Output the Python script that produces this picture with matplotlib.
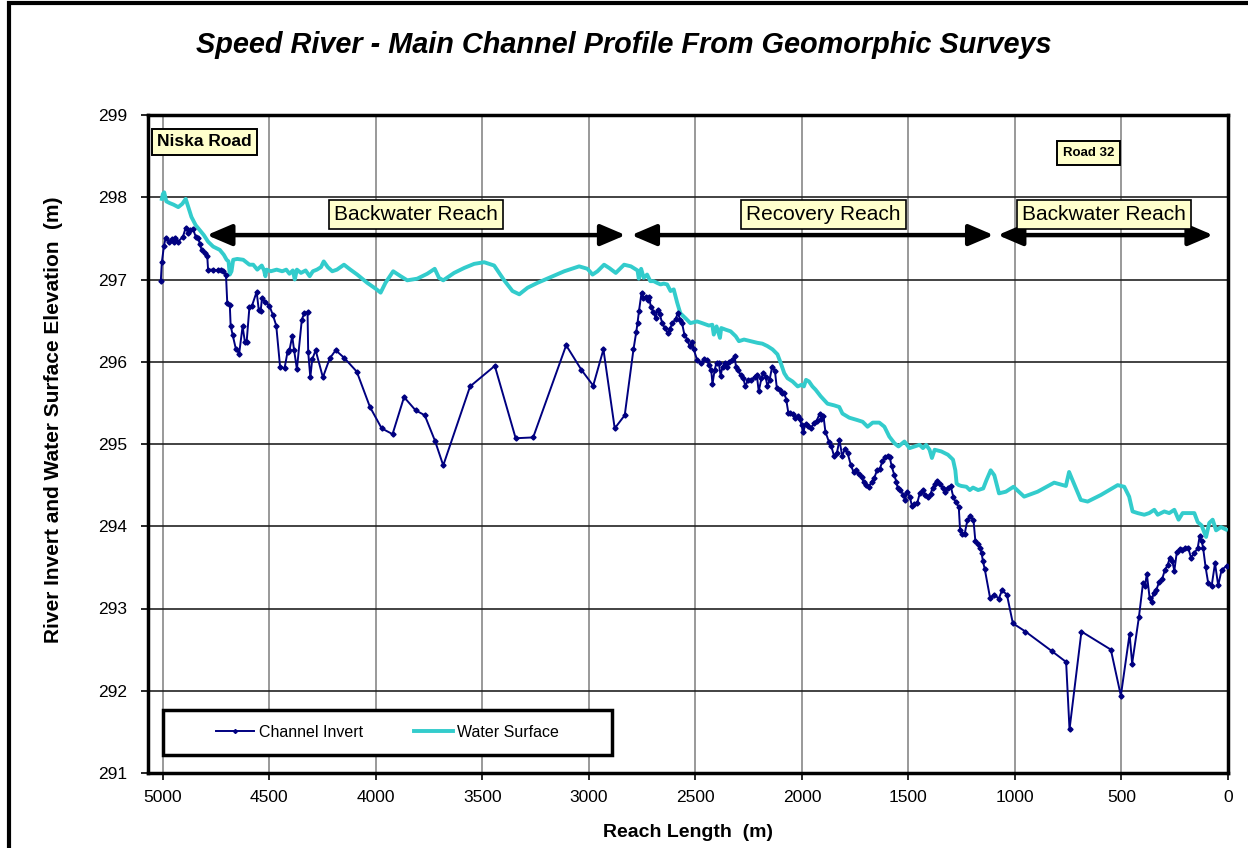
import matplotlib
matplotlib.use("Agg")
import matplotlib.pyplot as plt
from matplotlib.patches import Rectangle

plt.rcParams['font.family'] = ['Liberation Sans', 'DejaVu Sans']

# Channel invert survey points (reach length m, elevation m)
invert_dist = [5010, 5005, 4995, 4987, 4972, 4959, 4950, 4943, 4928, 4906, 4893, 4881, 4871, 4858,
               4846, 4833, 4827, 4818, 4802, 4792, 4788, 4764, 4741, 4725, 4717, 4704, 4698, 4686,
               4682, 4673, 4657, 4642, 4626, 4615, 4607, 4594, 4582, 4560, 4550, 4541, 4535, 4519,
               4500, 4484, 4468, 4450, 4429, 4415, 4406, 4393, 4384, 4371, 4348, 4337, 4321, 4318,
               4308, 4299, 4283, 4249, 4217, 4189, 4150, 4090, 4028, 3973, 3922, 3868, 3814, 3771,
               3723, 3684, 3558, 3442, 3344, 3262, 3107, 3035, 2980, 2932, 2879, 2832, 2791, 2778,
               2772, 2765, 2753, 2744, 2734, 2725, 2718, 2709, 2697, 2687, 2678, 2668, 2656, 2643,
               2630, 2621, 2608, 2593, 2583, 2571, 2563, 2552, 2539, 2527, 2514, 2508, 2492, 2473,
               2458, 2445, 2436, 2426, 2420, 2410, 2401, 2390, 2382, 2373, 2360, 2351, 2341, 2329,
               2316, 2310, 2300, 2288, 2275, 2266, 2253, 2237, 2222, 2212, 2203, 2190, 2181, 2171,
               2162, 2152, 2140, 2127, 2118, 2105, 2095, 2083, 2074, 2064, 2055, 2042, 2033, 2020,
               2011, 2001, 1995, 1983, 1973, 1957, 1943, 1931, 1917, 1909, 1899, 1890, 1874, 1862,
               1849, 1836, 1824, 1811, 1799, 1786, 1770, 1758, 1745, 1733, 1720, 1711, 1698, 1686,
               1673, 1660, 1648, 1635, 1623, 1610, 1597, 1588, 1579, 1566, 1557, 1550, 1538, 1525,
               1516, 1506, 1494, 1484, 1472, 1459, 1447, 1434, 1421, 1409, 1396, 1387, 1377, 1365,
               1352, 1340, 1327, 1314, 1302, 1289, 1277, 1264, 1258, 1248, 1236, 1223, 1211, 1195,
               1186, 1173, 1164, 1157, 1151, 1142, 1117, 1098, 1076, 1061, 1038, 1010, 951, 826,
               760, 744, 688, 550, 503, 462, 450, 418, 399, 390, 381, 368, 359, 349, 337, 324, 309,
               296, 283, 274, 262, 252, 240, 227, 215, 202, 187, 174, 158, 142, 133, 124, 117, 105,
               93, 77, 61, 46, 30, 5]
invert_elev = [296.98, 297.21, 297.41, 297.51, 297.46, 297.49, 297.46, 297.51, 297.46, 297.52, 297.63,
               297.57, 297.60, 297.61, 297.52, 297.50, 297.43, 297.36, 297.32, 297.29, 297.12, 297.12,
               297.11, 297.12, 297.10, 297.06, 296.72, 296.69, 296.44, 296.33, 296.15, 296.10, 296.43,
               296.24, 296.24, 296.66, 296.68, 296.85, 296.63, 296.62, 296.77, 296.73, 296.68, 296.57,
               296.44, 295.94, 295.92, 296.12, 296.14, 296.31, 296.14, 295.91, 296.51, 296.59, 296.60,
               296.12, 295.81, 296.03, 296.14, 295.81, 296.04, 296.14, 296.05, 295.88, 295.45, 295.19,
               295.12, 295.57, 295.41, 295.35, 295.04, 294.74, 295.70, 295.95, 295.07, 295.08, 296.20,
               295.90, 295.71, 296.15, 295.19, 295.35, 296.15, 296.36, 296.47, 296.62, 296.84, 296.77,
               296.79, 296.75, 296.79, 296.66, 296.61, 296.53, 296.63, 296.58, 296.47, 296.41, 296.35,
               296.40, 296.47, 296.52, 296.59, 296.51, 296.47, 296.33, 296.27, 296.19, 296.24, 296.15,
               296.02, 295.98, 296.03, 296.02, 295.96, 295.90, 295.73, 295.90, 295.99, 295.98, 295.83,
               295.94, 295.99, 295.94, 296.00, 296.02, 296.07, 295.94, 295.90, 295.84, 295.80, 295.70,
               295.78, 295.78, 295.82, 295.84, 295.64, 295.80, 295.86, 295.82, 295.70, 295.78, 295.94,
               295.89, 295.68, 295.66, 295.62, 295.62, 295.54, 295.38, 295.38, 295.37, 295.32, 295.34,
               295.30, 295.23, 295.14, 295.24, 295.22, 295.20, 295.25, 295.28, 295.37, 295.31, 295.34,
               295.15, 295.03, 294.97, 294.85, 294.89, 295.05, 294.85, 294.94, 294.89, 294.74, 294.66,
               294.68, 294.64, 294.60, 294.54, 294.50, 294.48, 294.54, 294.59, 294.68, 294.69, 294.79,
               294.84, 294.86, 294.84, 294.73, 294.62, 294.54, 294.46, 294.44, 294.38, 294.32, 294.42,
               294.36, 294.25, 294.27, 294.28, 294.40, 294.44, 294.38, 294.36, 294.39, 294.47, 294.51,
               294.55, 294.51, 294.47, 294.42, 294.47, 294.49, 294.35, 294.29, 294.24, 293.96, 293.91,
               293.91, 294.08, 294.12, 294.08, 293.82, 293.79, 293.74, 293.68, 293.58, 293.48, 293.13,
               293.17, 293.12, 293.22, 293.17, 292.82, 292.72, 292.48, 292.35, 291.53, 292.72, 292.50,
               291.94, 292.69, 292.33, 292.90, 293.31, 293.27, 293.42, 293.13, 293.08, 293.19, 293.22,
               293.32, 293.36, 293.47, 293.53, 293.61, 293.58, 293.46, 293.69, 293.72, 293.71, 293.73,
               293.74, 293.62, 293.67, 293.74, 293.88, 293.82, 293.74, 293.50, 293.31, 293.27, 293.55,
               293.28, 293.47, 293.52]

# Water surface profile
water_dist = [5005, 5000, 4994, 4984, 4969, 4950, 4928, 4909, 4893, 4882, 4866, 4846, 4827, 4808,
              4788, 4764, 4733, 4714, 4701, 4692, 4686, 4678, 4670, 4651, 4623, 4594, 4576, 4557,
              4536, 4525, 4519, 4513, 4494, 4466, 4440, 4421, 4406, 4390, 4381, 4371, 4352, 4330,
              4311, 4296, 4277, 4258, 4245, 4226, 4205, 4183, 4150, 4120, 4088, 4041, 3997, 3978,
              3955, 3919, 3884, 3853, 3806, 3759, 3724, 3704, 3684, 3633, 3586, 3539, 3492, 3445,
              3398, 3359, 3327, 3288, 3241, 3179, 3116, 3046, 3007, 2983, 2960, 2929, 2905, 2874,
              2835, 2803, 2772, 2766, 2755, 2743, 2727, 2712, 2696, 2681, 2664, 2649, 2633, 2617,
              2602, 2586, 2571, 2547, 2524, 2492, 2469, 2437, 2421, 2414, 2401, 2385, 2379, 2358,
              2335, 2311, 2296, 2272, 2241, 2209, 2186, 2162, 2138, 2115, 2099, 2083, 2068, 2044,
              2020, 2002, 1991, 1981, 1967, 1951, 1936, 1912, 1880, 1849, 1825, 1810, 1778, 1739,
              1715, 1692, 1668, 1637, 1613, 1590, 1566, 1547, 1519, 1495, 1472, 1448, 1432, 1417,
              1401, 1390, 1377, 1346, 1315, 1291, 1280, 1274, 1264, 1252, 1228, 1212, 1197, 1173,
              1149, 1134, 1114, 1097, 1075, 1043, 1007, 957, 894, 816, 761, 746, 730, 691, 659,
              597, 518, 487, 464, 448, 424, 393, 370, 346, 330, 299, 276, 252, 232, 213, 182, 158,
              142, 124, 103, 88, 72, 56, 33, 9]
water_elev = [297.98, 298.04, 298.06, 297.95, 297.93, 297.91, 297.88, 297.92, 297.98, 297.89, 297.76,
              297.66, 297.60, 297.54, 297.46, 297.40, 297.36, 297.30, 297.24, 297.22, 297.06, 297.10,
              297.24, 297.25, 297.24, 297.18, 297.18, 297.12, 297.17, 297.11, 297.04, 297.12, 297.10,
              297.12, 297.10, 297.12, 297.07, 297.11, 297.00, 297.12, 297.08, 297.11, 297.04, 297.10,
              297.12, 297.15, 297.22, 297.15, 297.10, 297.12, 297.18, 297.12, 297.06, 296.96, 296.88,
              296.84, 296.96, 297.10, 297.04, 296.99, 297.01, 297.07, 297.13, 297.02, 296.99, 297.08,
              297.14, 297.19, 297.21, 297.17, 296.99, 296.86, 296.82, 296.90, 296.96, 297.03, 297.10,
              297.16, 297.13, 297.06, 297.10, 297.18, 297.14, 297.08, 297.18, 297.16, 297.11, 297.01,
              297.13, 297.02, 297.06, 296.98, 296.98, 296.96, 296.94, 296.95, 296.94, 296.86, 296.88,
              296.72, 296.59, 296.53, 296.47, 296.49, 296.47, 296.44, 296.45, 296.33, 296.43, 296.29,
              296.41, 296.39, 296.37, 296.31, 296.25, 296.27, 296.25, 296.23, 296.22, 296.19, 296.15,
              296.09, 295.98, 295.86, 295.80, 295.76, 295.70, 295.72, 295.70, 295.78, 295.76, 295.70,
              295.66, 295.58, 295.49, 295.47, 295.45, 295.37, 295.32, 295.29, 295.27, 295.21, 295.26,
              295.26, 295.21, 295.09, 295.01, 294.97, 295.03, 294.95, 294.97, 294.99, 294.95, 294.99,
              294.93, 294.83, 294.93, 294.91, 294.87, 294.81, 294.68, 294.52, 294.50, 294.49, 294.48,
              294.44, 294.47, 294.44, 294.46, 294.56, 294.68, 294.62, 294.40, 294.42, 294.48, 294.36,
              294.42, 294.53, 294.49, 294.66, 294.56, 294.32, 294.30, 294.38, 294.50, 294.48, 294.36,
              294.18, 294.16, 294.14, 294.16, 294.20, 294.14, 294.18, 294.16, 294.20, 294.08, 294.16,
              294.16, 294.16, 294.05, 294.01, 293.87, 294.04, 294.08, 293.95, 293.99, 293.96]

x_ticks = [5000, 4500, 4000, 3500, 3000, 2500, 2000, 1500, 1000, 500, 0]
y_ticks = [291, 292, 293, 294, 295, 296, 297, 298, 299]

# reach arrows: (start, end, label, label x)
reaches = [(4794, 2828, "Backwater Reach", 3811),
           (2801, 1100, "Recovery Reach", 1898),
           (1081, 70, "Backwater Reach", 583)]

fig = plt.figure(figsize=(12.48, 8.48), dpi=100)
ax = fig.add_axes([148/1248, 1 - 773/848, 1080/1248, 658/848])

ax.plot(water_dist, water_elev, color="#33CCCC", lw=2.8, solid_joinstyle="round", zorder=3)
ax.plot(invert_dist, invert_elev, color="#000080", lw=1.4, marker="D", ms=2.6, zorder=4)

ax.set_xlim(5070, 0)
ax.set_ylim(291, 299)
ax.set_xticks(x_ticks)
ax.set_yticks(y_ticks)
ax.tick_params(labelsize=12.5, direction="out", length=5, width=1.2)
ax.tick_params(axis="x", pad=7)
ax.tick_params(axis="y", pad=10)
ax.xaxis.grid(True, color="#888888", lw=1.2)
ax.yaxis.grid(True, color="#222222", lw=1.2)
ax.set_axisbelow(True)
for sp in ax.spines.values():
    sp.set_linewidth(2.5)
    sp.set_color("black")

ax.set_xlabel("Reach Length  (m)", fontsize=14, fontweight="bold", labelpad=14)
ax.set_ylabel("River Invert and Water Surface Elevation  (m)", fontsize=15, fontweight="bold")
ax.yaxis.set_label_coords(-0.0787, 0.5365)

fig.text(0.4996, 1 - 45/848, "Speed River - Main Channel Profile From Geomorphic Surveys",
         ha="center", va="center", fontsize=20.8, fontweight="bold", style="italic")

# arrows and reach labels
for start, end, label, lx in reaches:
    ax.annotate("", xy=(end, 297.54), xytext=(start, 297.54),
                arrowprops=dict(arrowstyle="<|-|>,head_length=0.75,head_width=0.32",
                                lw=3.2, color="black", shrinkA=0, shrinkB=0,
                                mutation_scale=20), zorder=6)
    ax.text(lx, 297.79, label, ha="center", va="center", fontsize=15, zorder=7,
            bbox=dict(boxstyle="square,pad=0.25", fc="#FFFFCC", ec="black", lw=1.2))

ax.text(0.0085, 0.959, "Niska Road", transform=ax.transAxes, ha="left", va="center",
        fontsize=12.5, fontweight="bold", zorder=7,
        bbox=dict(boxstyle="square,pad=0.3", fc="#FFFFCC", ec="black", lw=1.4))
ax.text(0.871, 0.942, "Road 32", transform=ax.transAxes, ha="center", va="center",
        fontsize=9.5, fontweight="bold", zorder=7,
        bbox=dict(boxstyle="square,pad=0.45", fc="#FFFFCC", ec="black", lw=1.4))

# legend box
ax.add_patch(Rectangle((15/1080, 18/658), 449/1080, 45/658, transform=ax.transAxes,
                       fc="white", ec="black", lw=2.5, zorder=8))
h1, = ax.plot([], [], color="#000080", lw=1.4, marker="D", ms=2, markevery=[1])
h2, = ax.plot([], [], color="#33CCCC", lw=2.8)
leg = ax.legend([h1, h2], ["Channel Invert", "Water Surface"], ncol=2, frameon=False,
                loc="center", bbox_to_anchor=(15/1080 + 449/2160, (18 + 22.5)/658),
                fontsize=11.5, handlelength=2.4, handletextpad=0.3, columnspacing=3.2)
leg.set_zorder(9)

# outer figure border
fig.patches.append(Rectangle((9/1248, -0.1), 1.2, 1.1 - 3/848, transform=fig.transFigure,
                             fill=False, ec="black", lw=3))

fig.savefig("out.png", dpi=100)
